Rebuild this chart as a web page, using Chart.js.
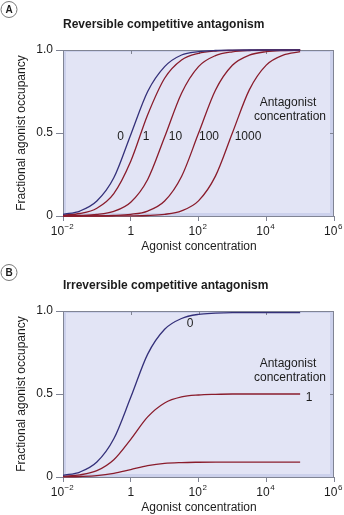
<!DOCTYPE html>
<html><head><meta charset="utf-8">
<script src="https://cdn.jsdelivr.net/npm/chart.js@4.4.1/dist/chart.umd.min.js"></script>
<style>
html,body{margin:0;padding:0;background:#fff;width:344px;height:515px;overflow:hidden}
.panel{position:absolute;left:0;width:344px}
#pa{top:0;height:258px}
#pb{top:261px;height:254px}
canvas{display:block}
</style></head><body>
<div class="panel" id="pa"><canvas id="ca" width="344" height="258"></canvas></div>
<div class="panel" id="pb"><canvas id="cb" width="344" height="254"></canvas></div>
<script>
// Agonist concentrations (half-log steps from 10^-2 to 10^5)
const agonistConc = [0.01, 0.0316, 0.1, 0.316, 1, 3.16, 10, 31.6, 100, 316, 1000, 3160, 10000, 31600, 100000];

// Axis ticks
const xTickValues = [1e-2, 1, 1e2, 1e4, 1e6];
const xTickExponents = ['-2', null, '2', '4', '6'];
const yTickValues = [0, 0.5, 1];
const yTickLabels = ['0', '0.5', '1.0'];

// Panel A: reversible competitive antagonism
const reversibleTitle = 'Reversible competitive antagonism';
const reversibleConcLabels = ['0', '1', '10', '100', '1000'];
const revOcc0    = [0.01, 0.03, 0.09, 0.23, 0.49, 0.75, 0.90, 0.97, 0.99, 0.997, 0.999, 1.0, 1.0, 1.0, 1.0];
const revOcc1    = [0.005, 0.015, 0.047, 0.135, 0.33, 0.61, 0.83, 0.94, 0.98, 0.994, 0.998, 0.999, 1.0, 1.0, 1.0];
const revOcc10   = [0.001, 0.003, 0.009, 0.028, 0.083, 0.22, 0.476, 0.74, 0.90, 0.966, 0.989, 0.997, 0.999, 1.0, 1.0];
const revOcc100  = [0.0, 0.0003, 0.001, 0.003, 0.01, 0.03, 0.09, 0.238, 0.498, 0.758, 0.908, 0.969, 0.99, 0.997, 0.999];
const revOcc1000 = [0.0, 0.0, 0.0001, 0.0003, 0.001, 0.003, 0.01, 0.031, 0.091, 0.24, 0.50, 0.76, 0.909, 0.969, 0.99];

// Panel B: irreversible competitive antagonism
const irreversibleTitle = 'Irreversible competitive antagonism';
const irreversibleConcLabels = ['0', '1', ''];
const irrOcc0  = [0.01, 0.03, 0.09, 0.23, 0.48, 0.74, 0.89, 0.955, 0.98, 0.987, 0.99, 0.99, 0.99, 0.99, 0.99];
const irrOcc1  = [0.004, 0.013, 0.038, 0.104, 0.227, 0.362, 0.446, 0.482, 0.494, 0.498, 0.5, 0.5, 0.5, 0.5, 0.5];
const irrOcc2  = [0.001, 0.003, 0.008, 0.022, 0.045, 0.068, 0.082, 0.087, 0.089, 0.09, 0.09, 0.09, 0.09, 0.09, 0.09];

const axisXTitle = 'Agonist concentration';
const axisYTitle = 'Fractional agonist occupancy';
const legendHeading = ['Antagonist', 'concentration'];

const FONT = '"Liberation Sans", Arial, Helvetica, sans-serif';
const BLUE = 'rgb(52,48,122)';
const RED = 'rgb(138,28,44)';
const FRAME = 'rgb(128,132,148)';
const BAND = 'rgb(204,209,236)';
const FILL = 'rgb(226,228,245)';
const TEXT = '#1c1c1c';

function seriesSet(values, labels) {
  return values.map((v, i) => ({
    label: labels[i],
    data: v,
    borderColor: i === 0 ? BLUE : RED,
    borderWidth: 1.3,
    pointRadius: 0,
    cubicInterpolationMode: 'monotone',
    fill: false,
    clip: false
  }));
}

// Draws the framed plot background, extra tick marks and all texts of a panel
function panelPlugin(p) {
  return {
    id: 'panelDecor',
    beforeDatasetsDraw(chart) {
      const { ctx, chartArea: a } = chart;
      ctx.save();
      ctx.fillStyle = BAND;
      ctx.fillRect(a.left, a.top, a.right - a.left, a.bottom - a.top);
      ctx.fillStyle = FILL;
      ctx.fillRect(a.left + 3, a.top + 2, a.right - a.left - 7, a.bottom - a.top - 5);
      ctx.strokeStyle = FRAME;
      ctx.lineWidth = 1;
      ctx.strokeRect(a.left + 0.5, a.top + 0.5, a.right - a.left - 1, a.bottom - a.top);
      // inner ticks along top and right edges
      const xs = chart.scales.x, ys = chart.scales.y;
      ctx.beginPath();
      xTickValues.slice(1, -1).forEach(v => {
        const px = Math.round(xs.getPixelForValue(v)) + 0.5;
        ctx.moveTo(px, a.top); ctx.lineTo(px, a.top + 4);
      });
      const py = Math.round(ys.getPixelForValue(0.5)) + 0.5;
      ctx.moveTo(a.right, py); ctx.lineTo(a.right - 4, py);
      ctx.stroke();
      ctx.restore();
    },
    afterDraw(chart) {
      const { ctx, chartArea: a } = chart;
      const xs = chart.scales.x;
      ctx.save();
      ctx.fillStyle = TEXT;
      // x tick labels with superscript exponents
      ctx.textBaseline = 'alphabetic';
      xTickValues.forEach((v, i) => {
        const px = xs.getPixelForValue(v);
        const exp = xTickExponents[i];
        ctx.font = '12px ' + FONT;
        if (exp === null) {
          ctx.textAlign = 'center';
          ctx.fillText('1', px, a.bottom + 19);
          return;
        }
        const wb = ctx.measureText('10').width;
        ctx.font = '8px ' + FONT;
        const we = ctx.measureText(exp.replace('-', '\u2212')).width;
        const x0 = px - (wb + we) / 2 - 1;
        ctx.textAlign = 'left';
        ctx.font = '12px ' + FONT;
        ctx.fillText('10', x0, a.bottom + 19);
        ctx.font = '8px ' + FONT;
        ctx.fillText(exp.replace('-', '\u2212'), x0 + wb + 0.5, a.bottom + 13);
      });
      // axis titles
      ctx.font = '12px ' + FONT;
      ctx.textAlign = 'center';
      ctx.textBaseline = 'middle';
      ctx.fillText(axisXTitle, 199, a.bottom + 31);
      ctx.save();
      ctx.translate(22, (a.top + a.bottom) / 2);
      ctx.rotate(-Math.PI / 2);
      ctx.fillText(axisYTitle, 0, 0);
      ctx.restore();
      // panel title
      ctx.font = 'bold 12px ' + FONT;
      ctx.textAlign = 'left';
      ctx.fillText(p.title, 63, 25);
      // circled panel letter
      ctx.beginPath();
      ctx.arc(p.letterX, p.letterY, 8, 0, Math.PI * 2);
      ctx.strokeStyle = 'rgb(120,120,120)';
      ctx.lineWidth = 1;
      ctx.stroke();
      ctx.font = 'bold 10px ' + FONT;
      ctx.textAlign = 'center';
      ctx.fillText(p.letter, p.letterX, p.letterY + 0.5);
      // curve labels and heading
      ctx.font = '12px ' + FONT;
      p.curveLabels.forEach(l => ctx.fillText(l.text, l.x, l.y));
      ctx.fillText(legendHeading[0], p.headX, p.headY);
      ctx.fillText(legendHeading[1], p.headX + 2, p.headY + 14);
      ctx.restore();
    }
  };
}

function makeChart(canvasId, datasets, p) {
  const H = document.getElementById(canvasId).height;
  return new Chart(document.getElementById(canvasId), {
    type: 'line',
    data: { labels: agonistConc, datasets },
    options: {
      responsive: false,
      animation: false,
      events: [],
      parsing: true,
      layout: { padding: { left: 33, right: 10, top: 50, bottom: H - 216 - 20 } },
      plugins: { legend: { display: false }, tooltip: { enabled: false }, title: { display: false } },
      scales: {
        x: {
          type: 'logarithmic',
          min: 1e-2, max: 1e6,
          afterBuildTicks: s => { s.ticks = xTickValues.map(v => ({ value: v })); },
          afterFit: s => { s.height = 20; },
          border: { display: false },
          grid: { drawOnChartArea: false, drawTicks: true, tickLength: 5, color: FRAME },
          ticks: { display: true, color: 'rgba(0,0,0,0)', callback: () => '' }
        },
        y: {
          type: 'linear',
          min: 0, max: 1,
          afterBuildTicks: s => { s.ticks = yTickValues.map(v => ({ value: v })); },
          afterFit: s => { s.width = 30; },
          border: { display: false },
          grid: { drawOnChartArea: false, drawTicks: true, tickLength: 7, color: FRAME },
          ticks: {
            padding: 3,
            color: TEXT,
            font: { family: FONT, size: 12 },
            callback: v => yTickLabels[yTickValues.indexOf(v)]
          }
        }
      }
    },
    plugins: [panelPlugin(p)]
  });
}

// Line chart with x as numeric log values
function toPoints(ys) { return ys.map((y, i) => ({ x: agonistConc[i], y })); }

makeChart('ca',
  seriesSet([revOcc0, revOcc1, revOcc10, revOcc100, revOcc1000].map(toPoints), reversibleConcLabels),
  {
    title: reversibleTitle, letter: 'A', letterX: 9, letterY: 9.5,
    curveLabels: [
      { text: reversibleConcLabels[0], x: 120.5, y: 137 },
      { text: reversibleConcLabels[1], x: 146, y: 137 },
      { text: reversibleConcLabels[2], x: 175.5, y: 137 },
      { text: reversibleConcLabels[3], x: 209, y: 137 },
      { text: reversibleConcLabels[4], x: 248, y: 137 }
    ],
    headX: 288, headY: 103
  });

makeChart('cb',
  seriesSet([irrOcc0, irrOcc1, irrOcc2].map(toPoints), irreversibleConcLabels),
  {
    title: irreversibleTitle, letter: 'B', letterX: 9, letterY: 11.5,
    curveLabels: [
      { text: irreversibleConcLabels[0], x: 190, y: 63 },
      { text: irreversibleConcLabels[1], x: 309, y: 137 }
    ],
    headX: 288, headY: 103
  });
</script>
</body></html>
